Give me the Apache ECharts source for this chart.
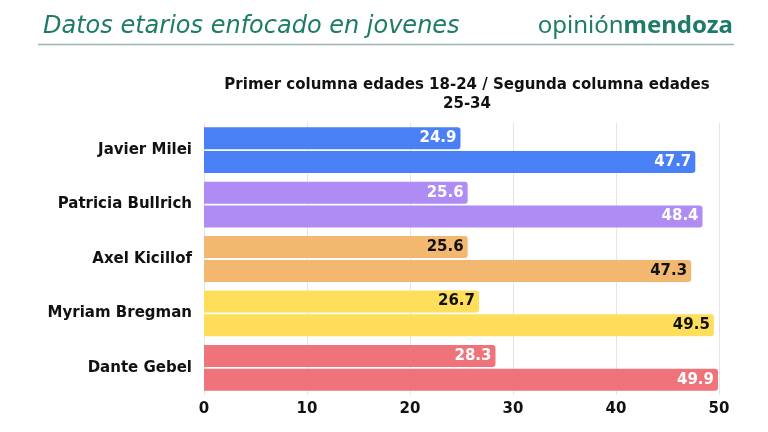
<!DOCTYPE html>
<html><head><meta charset="utf-8">
<script src="https://cdn.jsdelivr.net/npm/echarts@6/dist/echarts.min.js"></script>
<style>html,body{margin:0;padding:0;background:#fff}#c{width:768px;height:432px}</style>
</head><body><div id="c"></div>
<script>
const categories = ['Javier Milei','Patricia Bullrich','Axel Kicillof','Myriam Bregman','Dante Gebel'];
const edades1824 = [24.9, 25.6, 25.6, 26.7, 28.3];
const edades2534 = [47.7, 48.4, 47.3, 49.5, 49.9];
const xTicks = [0, 10, 20, 30, 40, 50];
const colors = ['#4a80f5','#ae8cf3','#f2b870','#fede5b','#ef737b'];
const labelColors = ['#ffffff','#ffffff','#111111','#111111','#ffffff'];

const FONT = 'DejaVu Sans';
function mk(vals){
  return vals.map((v,i)=>({value:v,itemStyle:{color:colors[i]},label:{color:labelColors[i]}}));
}
const chart = echarts.init(document.getElementById('c'));
chart.setOption({
  animation:false,
  backgroundColor:'#fff',
  title:{
    text:'Primer columna edades 18-24 / Segunda columna edades\n25-34',
    left:462, top:71, textAlign:'center',
    textStyle:{fontFamily:FONT,fontWeight:'bold',fontSize:15,color:'#111',lineHeight:19}
  },
  graphic:[
    {type:'text',left:43,top:15,style:{text:'Datos etarios enfocado en jovenes',fontFamily:'DejaVu Sans',fontStyle:'italic',fontWeight:'normal',fontSize:24,fill:'#1e7b68'}},
    {type:'line',shape:{x1:38,y1:44.5,x2:734,y2:44.5},style:{stroke:'#9db5b4',lineWidth:1.5}},
    {type:'text',right:35,top:14,style:{rich:{a:{fontFamily:'Noto Sans',fontSize:24,fill:'#1e7b68'},b:{fontFamily:'Noto Sans',fontWeight:'bold',fontSize:24,fill:'#1e7b68'}},text:'{a|opinión}{b|mendoza}'}}
  ],
  grid:{left:204,right:49,top:123,bottom:37},
  xAxis:{type:'value',min:0,max:50,interval:10,
    axisLabel:{fontFamily:FONT,fontWeight:'bold',fontSize:15,color:'#111',margin:7,
      formatter:v=>xTicks.includes(v)?String(v):''},
    splitLine:{lineStyle:{color:'#e4e4e4'}},axisLine:{show:false},axisTick:{show:false}},
  yAxis:{type:'category',data:categories,inverse:true,
    axisLabel:{fontFamily:FONT,fontWeight:'bold',fontSize:15,color:'#111',margin:12},
    axisLine:{show:true,lineStyle:{color:'#e4e4e4'}},axisTick:{show:false}},
  series:[
    {type:'bar',data:mk(edades1824),barWidth:22,barGap:'8%',
      itemStyle:{borderRadius:[0,3,3,0]},
      label:{show:true,position:'insideRight',fontFamily:FONT,fontWeight:'bold',fontSize:15,formatter:p=>p.value.toFixed(1),distance:4}},
    {type:'bar',data:mk(edades2534),barWidth:22,barGap:'8%',
      itemStyle:{borderRadius:[0,3,3,0]},
      label:{show:true,position:'insideRight',fontFamily:FONT,fontWeight:'bold',fontSize:15,formatter:p=>p.value.toFixed(1),distance:4}}
  ]
});
</script></body></html>
